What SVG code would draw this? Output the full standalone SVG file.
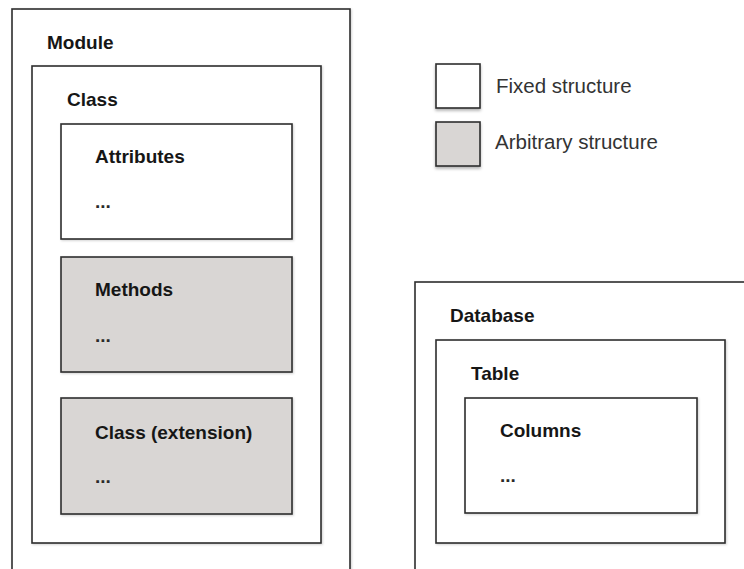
<svg xmlns="http://www.w3.org/2000/svg" width="744" height="569" viewBox="0 0 744 569">
  <defs>
    <filter id="shadow" x="-10%" y="-10%" width="130%" height="130%">
      <feDropShadow dx="0" dy="2" stdDeviation="1.5" flood-color="#000" flood-opacity="0.3"/>
    </filter>
    <filter id="soft" x="-5%" y="-5%" width="110%" height="110%">
      <feDropShadow dx="1" dy="1" stdDeviation="0.8" flood-color="#000" flood-opacity="0.18"/>
    </filter>
  </defs>
  <style>
    .box { fill: #ffffff; stroke: #2e2e2e; stroke-width: 1.6; filter: url(#soft); }
    .grey { fill: #d9d6d4; }
    .legend { filter: url(#shadow); }
    .title { font-family: "Liberation Sans", Arial, sans-serif; font-weight: bold; font-size: 19px; fill: #161616; }
    .dots { font-family: "Liberation Sans", Arial, sans-serif; font-weight: bold; font-size: 19px; fill: #2a2a2a; }
    .note { font-family: "Liberation Sans", Arial, sans-serif; font-size: 20.5px; fill: #333333; }
  </style>
  <rect width="744" height="569" fill="#ffffff"/>

  <!-- Module container with nested class and its parts -->
  <g id="module">
    <rect class="box" x="12" y="9" width="338" height="580"/>
    <text class="title" x="47" y="49">Module</text>
  </g>
  <g id="class">
    <rect class="box" x="32" y="66" width="289" height="477"/>
    <text class="title" x="67" y="106">Class</text>
  </g>
  <g id="attributes">
    <rect class="box" x="61" y="124" width="231" height="115"/>
    <text class="title" x="95" y="163">Attributes</text>
    <text class="dots" x="95" y="208">...</text>
  </g>
  <g id="methods">
    <rect class="box grey" x="61" y="257" width="231" height="115"/>
    <text class="title" x="95" y="296">Methods</text>
    <text class="dots" x="95" y="342">...</text>
  </g>
  <g id="class-extension">
    <rect class="box grey" x="61" y="398" width="231" height="116"/>
    <text class="title" x="95" y="439">Class (extension)</text>
    <text class="dots" x="95" y="483">...</text>
  </g>

  <!-- Legend -->
  <g id="legend-fixed">
    <rect class="box legend" x="436" y="64" width="44" height="44"/>
    <text class="note" x="496" y="93">Fixed structure</text>
  </g>
  <g id="legend-arbitrary">
    <rect class="box grey legend" x="436" y="122" width="44" height="44"/>
    <text class="note" x="495" y="149">Arbitrary structure</text>
  </g>

  <!-- Database container with table and columns -->
  <g id="database">
    <rect class="box" x="415" y="282" width="360" height="320"/>
    <text class="title" x="450" y="322">Database</text>
  </g>
  <g id="table">
    <rect class="box" x="436" y="340" width="289" height="203"/>
    <text class="title" x="471" y="380">Table</text>
  </g>
  <g id="columns">
    <rect class="box" x="465" y="398" width="232" height="115"/>
    <text class="title" x="500" y="437">Columns</text>
    <text class="dots" x="500" y="482">...</text>
  </g>
</svg>
